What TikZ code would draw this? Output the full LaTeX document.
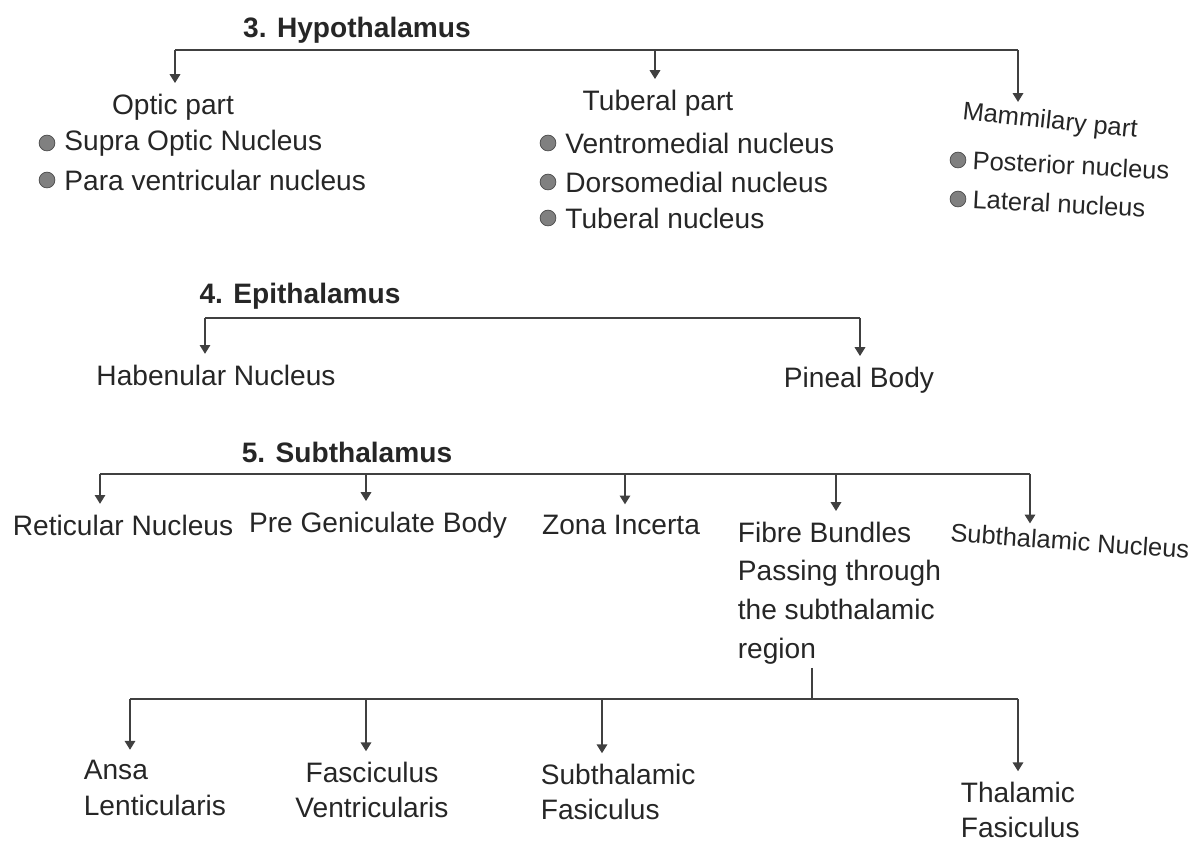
\documentclass[tikz,border=0pt]{standalone}
\usepackage{fontspec}
\setmainfont{Liberation Sans}
\usetikzlibrary{positioning, arrows.meta}

\begin{document}
\begin{tikzpicture}[
    x=0.02cm, y=-0.02cm,
    lbl/.style={font=\fontsize{16}{20}\selectfont, text=black!85, inner sep=2pt},
    slim/.style={lbl, font=\fontsize{14.5}{18}\selectfont, inner sep=0.5pt},
    head/.style={font=\fontsize{16}{20}\selectfont\bfseries, text=black!85, inner sep=2pt},
    bar/.style={line width=0.8pt, draw=black!75},
    arr/.style={bar, -{Triangle[length=5pt, width=6pt]}, shorten >=4pt},
    dot/.style={circle, fill=black!50, draw=black!70, minimum size=9pt, inner sep=0pt}
]
    \useasboundingbox (0,0) rectangle (1191,843);

    % 3. Hypothalamus
    \node[head] (hypo) at (357,30) {3. Hypothalamus};
    \coordinate (hyA) at (175,50);
    \coordinate (hyB) at (655,50);
    \coordinate (hyC) at (1018,50);

    \node[lbl] (optic) at (173,107) {Optic part};
    \node[dot] (od1) at (47,143) {};
    \node[lbl, right=3pt of od1] (supra) {Supra Optic Nucleus};
    \node[dot] (od2) at (47,180) {};
    \node[lbl, right=3pt of od2] (parav) {Para ventricular nucleus};

    \node[lbl] (tuberal) at (658,103) {Tuberal part};
    \node[dot] (td1) at (548,143) {};
    \node[lbl, right=3pt of td1] (ventro) {Ventromedial nucleus};
    \node[dot] (td2) at (548,182) {};
    \node[lbl, right=3pt of td2] (dorso) {Dorsomedial nucleus};
    \node[dot] (td3) at (548,218) {};
    \node[lbl, right=3pt of td3] (tubnuc) {Tuberal nucleus};

    \node[slim, rotate=-6] (mammil) at (1050,122) {Mammilary part};
    \node[dot] (md1) at (958,160) {};
    \node[slim, right=3pt of md1, rotate=-3] (poster) {Posterior nucleus};
    \node[dot] (md2) at (958,199) {};
    \node[slim, right=3pt of md2, rotate=-3] (later) {Lateral nucleus};

    \draw[bar] (hyA) -- (hyC);
    \draw[arr] (hyA) -- (hyA |- optic.north);
    \draw[arr] (hyB) -- (hyB |- tuberal.north);
    \draw[arr] (hyC) -- (hyC |- mammil.north);

    % 4. Epithalamus
    \node[head] (epi) at (300,296) {4. Epithalamus};
    \coordinate (epA) at (205,318);
    \coordinate (epB) at (860,318);
    \node[lbl] (haben) at (216,375) {Habenular Nucleus};
    \node[lbl] (pineal) at (859,380) {Pineal Body};

    \draw[bar] (epA) -- (epB);
    \draw[arr] (epA) -- (epA |- haben.north);
    \draw[arr] (epB) -- (epB |- pineal.north);

    % 5. Subthalamus
    \node[head] (subth) at (347,452) {5. Subthalamus};
    \coordinate (suA) at (100,474);
    \coordinate (suB) at (366,474);
    \coordinate (suC) at (625,474);
    \coordinate (suD) at (836,474);
    \coordinate (suE) at (1030,474);
    \node[lbl] (retic) at (123,525) {Reticular Nucleus};
    \node[lbl] (pregen) at (378,525) {Pre Geniculate Body};
    \node[lbl] (zona) at (621,525) {Zona Incerta};
    \node[lbl, anchor=north west, align=left, font=\fontsize{16}{22}\selectfont] (fibre) at (734,518)
        {Fibre Bundles\\Passing through\\the subthalamic\\region};
    \node[slim, rotate=-4] (subnuc) at (1070,541) {Subthalamic Nucleus};

    \draw[bar] (suA) -- (suE);
    \draw[arr] (suA) -- (suA |- retic.north);
    \draw[arr] (suB) -- (suB |- pregen.north);
    \draw[arr] (suC) -- (suC |- zona.north);
    \draw[arr] (suD) -- (suD |- fibre.north);
    \draw[arr] (suE) -- (suE |- subnuc.north);

    % fibre bundles
    \coordinate (fbA) at (130,699);
    \coordinate (fbB) at (366,699);
    \coordinate (fbC) at (602,699);
    \coordinate (fbD) at (812,699);
    \coordinate (fbE) at (1018,699);
    \node[lbl, anchor=west, align=left] (ansa) at (80,788) {Ansa\\Lenticularis};
    \node[lbl, align=center] (fascic) at (372,790) {Fasciculus\\Ventricularis};
    \node[lbl, anchor=west, align=left] (subfas) at (537,792) {Subthalamic\\Fasiculus};
    \node[lbl, anchor=west, align=left] (thalfas) at (957,810) {Thalamic\\Fasiculus};

    \draw[bar] (fibre.south -| fbD) -- (fbD);
    \draw[bar] (fbA) -- (fbE);
    \draw[arr] (fbA) -- (fbA |- ansa.north);
    \draw[arr] (fbB) -- (fbB |- fascic.north);
    \draw[arr] (fbC) -- (fbC |- subfas.north);
    \draw[arr] (fbE) -- (fbE |- thalfas.north);
\end{tikzpicture}
\end{document}
